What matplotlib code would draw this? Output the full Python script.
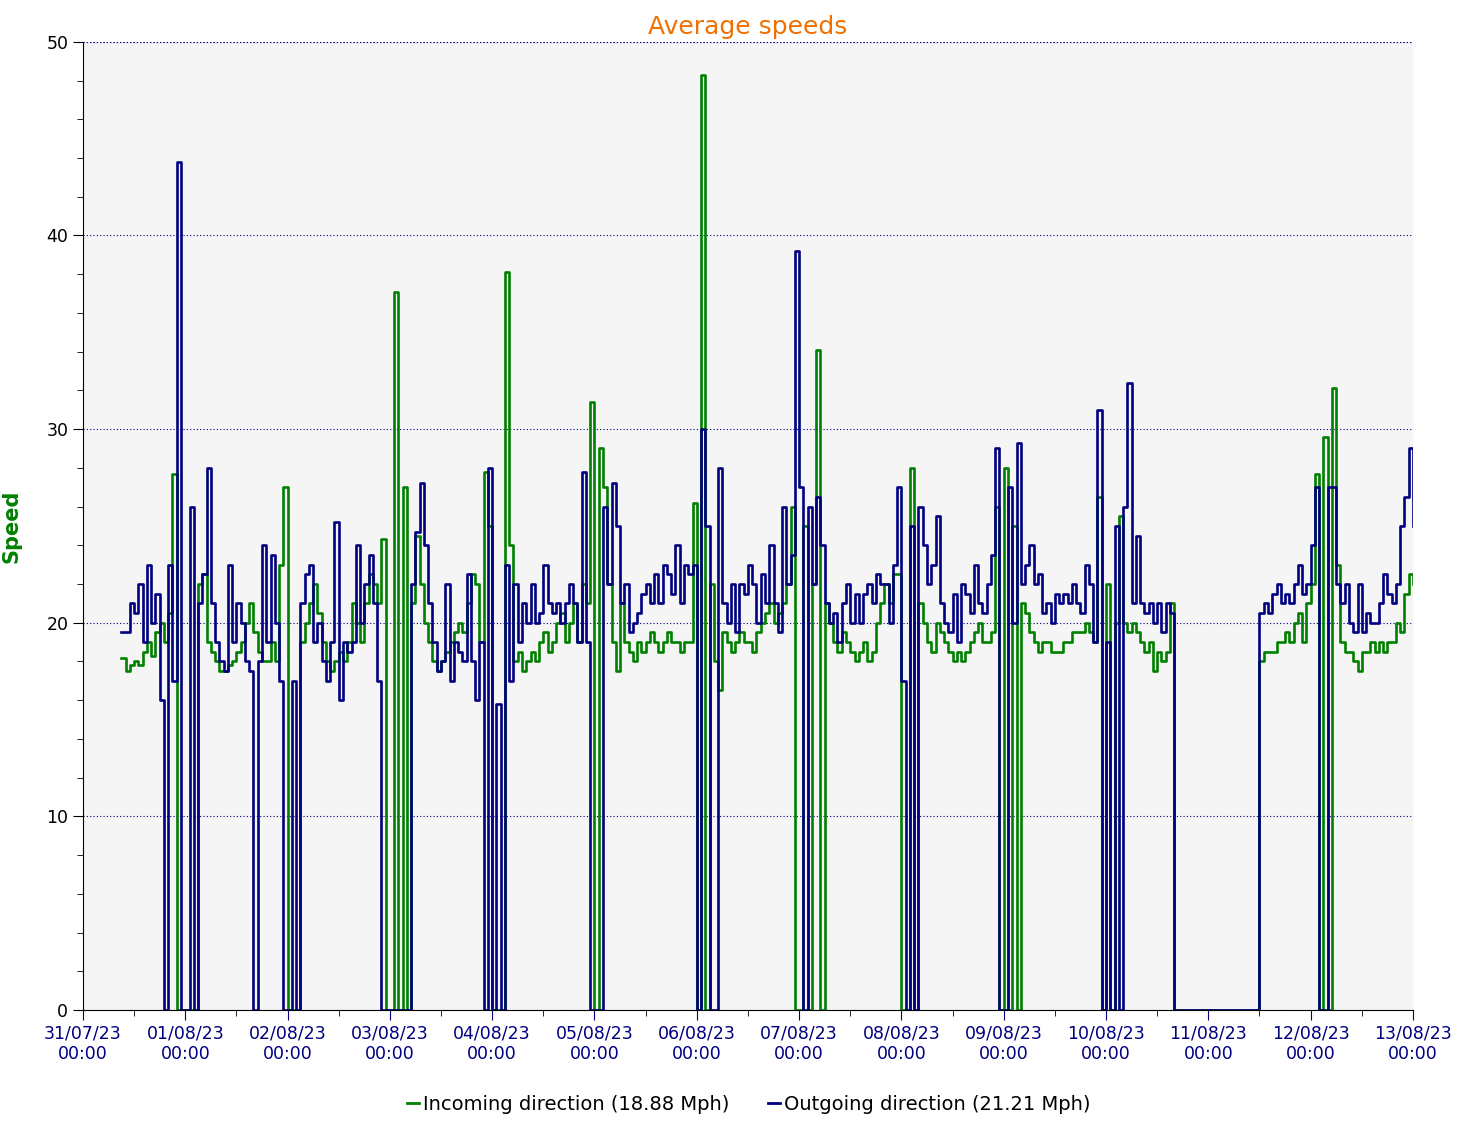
import numpy as np
import pandas as pd
import matplotlib.pyplot as plt
import matplotlib.dates as mdates
from matplotlib.lines import Line2D

# hourly averages, starting 31/07/23 09:00
inc_d0 = [18.2,17.5,17.8,18,17.8,18.5,19,18.3,19.5,20,19,20.5,27.7,0,0]
inc_d1 = [0,0,0,22,22.5,19,18.5,18,17.5,17.5,17.8,18,18.5,19,20,21,19.5,18.5,18,18,19,18,23,27]
inc_d2 = [0,0,0,19,20,21,22,20.5,19,18,17.5,18,18.5,18,19,21,20,19,21,22.5,22,21,24.3,0]
inc_d3 = [0,37.1,0,27,0,21,24.5,22,20,19,18,17.5,18,18.5,19,19.5,20,19.5,21,22.5,22,19,27.8,25]
inc_d4 = [0,0,0,38.1,24,18,18.5,17.5,18,18.5,18,19,19.5,18.5,19,20,20.5,19,20,21,19,22,21,31.4]
inc_d5 = [0,29,27,22,19,17.5,21,19,18.5,18,19,18.5,19,19.5,19,18.5,19,19.5,19,19,18.5,19,19,26.2]
inc_d6 = [0,48.3,0,22,18,16.5,19.5,19,18.5,19,19.5,19,19,18.5,19.5,20,20.5,21,20,20.5,21,22,26,0]
inc_d7 = [0,25,0,22,34.1,0,21,20,19,18.5,19.5,19,18.5,18,18.5,19,18,18.5,20,21,22,21,22.5,22.5]
inc_d8 = [0,0,28,0,21,20,19,18.5,20,19.5,19,18.5,18,18.5,18,18.5,19,19.5,20,19,19,19.5,26,0]
inc_d9 = [28,0,25,0,21,20.5,19.5,19,18.5,19,19,18.5,18.5,18.5,19,19,19.5,19.5,19.5,20,19.5,19,26.5,0]
inc_d10 = [22,0,20,25.5,20,19.5,20,19.5,19,18.5,19,17.5,18.5,18,18.5,21,0,0,0,0,0,0,0,0]
inc_d11 = [0]*12 + [18,18.5,18.5,18.5,19,19,19.5,19,20,20.5,19,21]
inc_d12 = [22,27.7,0,29.6,0,32.1,23,19,18.5,18.5,18,17.5,18.5,18.5,19,18.5,19,18.5,19,19,20,19.5,21.5,22.5,22]

out_d0 = [19.5,19.5,21,20.5,22,19,23,20,21.5,16,0,23,17,43.8,0]
out_d1 = [0,26,0,21,22.5,28,21,19,18,17.5,23,19,21,20,18,17.5,0,18,24,19,23.5,20,17,0]
out_d2 = [0,17,0,21,22.5,23,19,20,18,17,19,25.2,16,19,18.5,19,24,20,22,23.5,21,17,0,0]
out_d3 = [0,0,0,0,0,22,24.7,27.2,24,21,19,17.5,18,22,17,19,18.5,18,22.5,18,16,19,0,28]
out_d4 = [0,15.8,0,23,17,22,19,21,20,22,20,20.5,23,21,20.5,21,20,21,22,21,19,27.8,19,0]
out_d5 = [0,0,26,22,27.2,25,21,22,19.5,20,20.5,21.5,22,21,22.5,21,23,22.5,21.5,24,21,23,22.5,23]
out_d6 = [0,30,25,0,0,28,21,20,22,19.5,22,21.5,23,22,20,22.5,21,24,21,19.5,26,22,23.5,39.2]
out_d7 = [27,0,26,22,26.5,24,21,20,20.5,19,21,22,20,21.5,20,21.5,22,21,22.5,22,22,20,23,27]
out_d8 = [17,0,25,0,26,24,22,23,25.5,21,20,19.5,21.5,19,22,21.5,20.5,23,21,20.5,22,23.5,29,0]
out_d9 = [0,27,20,29.3,22,23,24,22,22.5,20.5,21,20,21.5,21,21.5,21,22,21,20.5,23,22,19,31,0]
out_d10 = [19,0,25,0,26,32.4,21,24.5,21,20.5,21,20,21,19.5,21,20.5,0,0,0,0,0,0,0,0]
out_d11 = [0]*12 + [20.5,21,20.5,21.5,22,21,21.5,21,22,23,21.5,22]
out_d12 = [24,27,0,0,27,27,22,21,22,20,19.5,22,19.5,20.5,20,20,21,22.5,21.5,21,22,25,26.5,29,25]

incoming = sum([inc_d0,inc_d1,inc_d2,inc_d3,inc_d4,inc_d5,inc_d6,inc_d7,inc_d8,inc_d9,inc_d10,inc_d11,inc_d12], [])
outgoing = sum([out_d0,out_d1,out_d2,out_d3,out_d4,out_d5,out_d6,out_d7,out_d8,out_d9,out_d10,out_d11,out_d12], [])
times = pd.date_range("2023-07-31 09:00", periods=len(incoming), freq="h")

green = "#008000"
navy = "#000080"

fig = plt.figure(figsize=(14.68, 11.31), dpi=100)
ax = fig.add_axes([0.0565, 0.107, 0.906, 0.856])
ax.set_facecolor("#f5f5f5")

ax.plot(times, incoming, drawstyle="steps-post", color=green, lw=1.9)
ax.plot(times, outgoing[:len(times)], drawstyle="steps-post", color=navy, lw=1.9)

ax.set_xlim(pd.Timestamp("2023-07-31"), pd.Timestamp("2023-08-13"))
ax.set_ylim(0, 50)
ax.set_yticks(range(0, 51, 10))
ax.set_yticks(range(0, 51, 2), minor=True)
ax.xaxis.set_major_locator(mdates.DayLocator())
ax.xaxis.set_minor_locator(mdates.HourLocator(byhour=[12]))
ax.xaxis.set_major_formatter(mdates.DateFormatter("%d/%m/%y\n%H:%M"))
ax.tick_params(axis="x", colors=navy, labelsize=12.5, length=7, labelcolor=navy)
ax.tick_params(axis="x", which="minor", length=4)
ax.tick_params(axis="y", labelsize=12.5, length=7)
ax.tick_params(axis="y", which="minor", length=4)
for lbl in ax.get_xticklabels():
    lbl.set_horizontalalignment("center")

ax.grid(axis="y", color=navy, linestyle=(0, (1, 2)), lw=0.8)
ax.axhline(50, color=navy, linestyle=(0, (1, 2)), lw=0.8)
for s in ["top", "right"]:
    ax.spines[s].set_visible(False)

ax.set_title("Average speeds", color="#f07000", fontsize=18, pad=6)
ax.set_ylabel("Speed", color=green, fontsize=15, fontweight="bold", labelpad=18)

handles = [Line2D([], [], color=green, lw=2), Line2D([], [], color=navy, lw=2)]
fig.legend(handles, ["Incoming direction (18.88 Mph)", "Outgoing direction (21.21 Mph)"],
           loc="lower center", ncol=2, frameon=False, fontsize=14,
           handlelength=0.6, handletextpad=0.2, columnspacing=2, bbox_to_anchor=(0.51, 0.0))

fig.savefig("out.png")
